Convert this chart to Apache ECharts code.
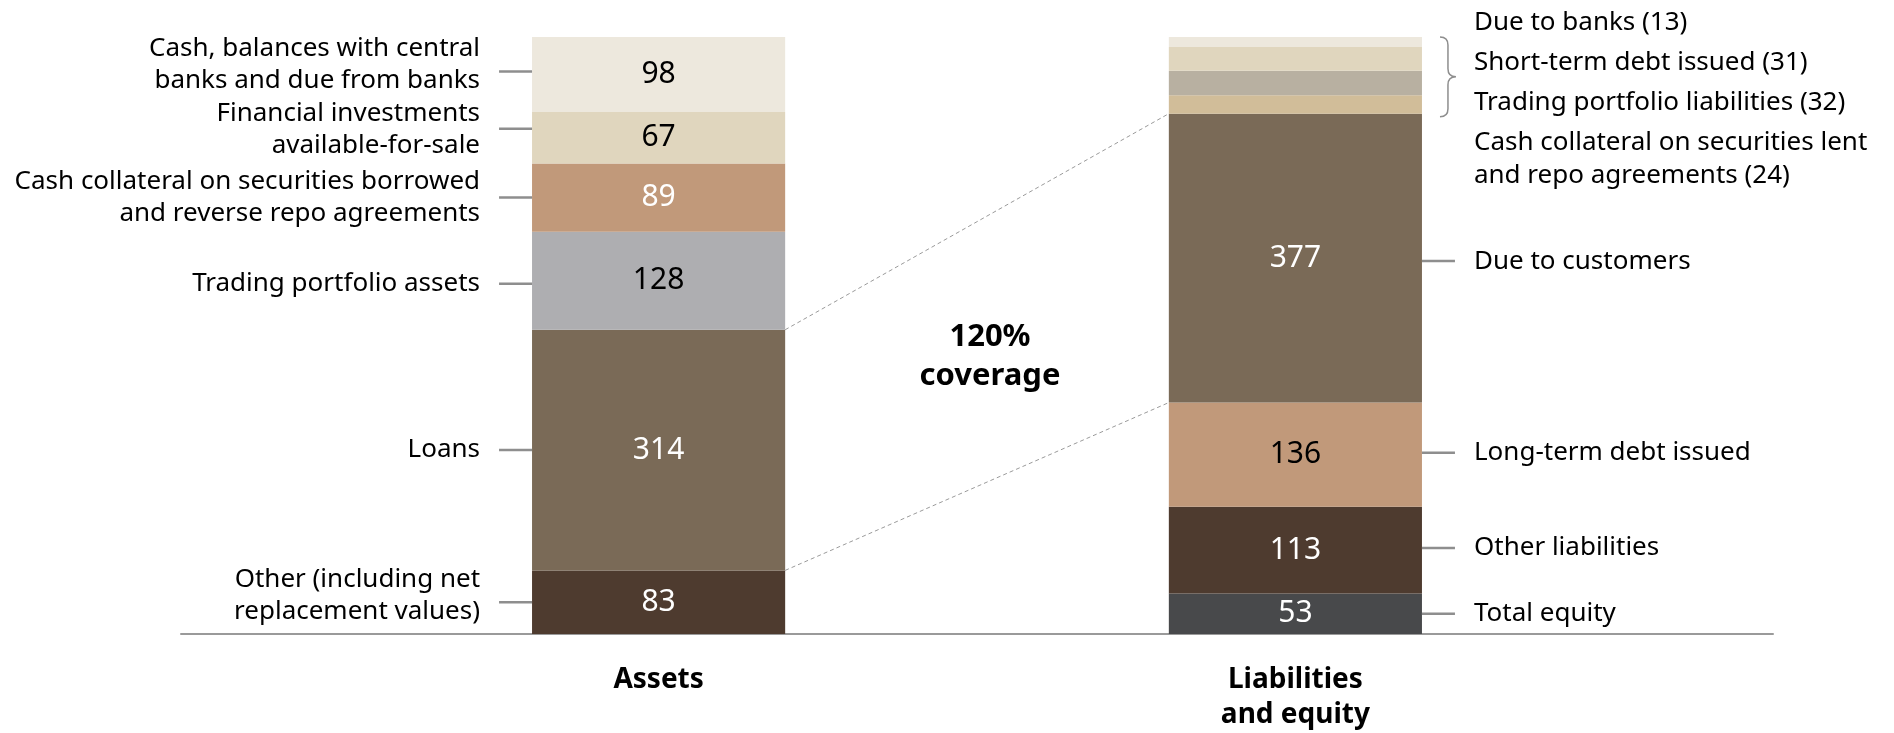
<!DOCTYPE html>
<html lang="en">
<head>
    <meta charset="UTF-8">
    <title>Balance sheet</title>
    <style>
        body {
            margin: 0px;
            padding: 0px;
            background: #ffffff;
        }

        #balance {
            width: 1894px;
            height: 733px;
        }
    </style>
</head>
<body>
<div id="balance"></div>
<script src="https://cdn.jsdelivr.net/npm/echarts@6/dist/echarts.min.js"></script>
<script>
    // five category slots, the two bars sit in slot 1 and 3
    var categories = ['', 'Assets', '', 'Liabilities\nand equity', ''];

    // stacked bottom to top
    var assetNames = [
        'Other (including net\nreplacement values)',
        'Loans',
        'Trading portfolio assets',
        'Cash collateral on securities borrowed\nand reverse repo agreements',
        'Financial investments\navailable-for-sale',
        'Cash, balances with central\nbanks and due from banks'
    ];
    var assetValues = [83, 314, 128, 89, 67, 98];

    var liabilityNames = [
        'Total equity',
        'Other liabilities',
        'Long-term debt issued',
        'Due to customers',
        'Cash collateral on securities lent\nand repo agreements (24)',
        'Trading portfolio liabilities (32)',
        'Short-term debt issued (31)',
        'Due to banks (13)'
    ];
    var liabilityValues = [53, 113, 136, 377, 24, 32, 31, 13];

    var coverageLines = ['120%', 'coverage'];

    var assetColors = ['#4e3b2f', '#7a6a57', '#aeaeb1', '#c1997a', '#e0d6be', '#ede8dd'];
    var assetTextColors = ['#ffffff', '#ffffff', '#000000', '#ffffff', '#000000', '#000000'];
    var liabilityColors = ['#48494b', '#4e3b2f', '#c1997a', '#7a6a57', '#d1bd99', '#b8b0a1', '#e0d6be', '#ede8dd'];
    var liabilityTextColors = ['#ffffff', '#ffffff', '#000000', '#ffffff', '#000000', '#000000', '#000000', '#000000'];

    // small pixel nudges of leader lines / label text, [leader, text]
    var assetNudge = [[0, -7], [0, 0], [3, 3], [0, 0], [-9, -8], [-3, -10]];
    var liabilityNudge = [[0, 0], [-2, -2], [-2, -2], [3, 3]];

    var bracedCount = 4;       // top liability items listed next to a brace
    var FONT = '"Noto Sans", "Open Sans", sans-serif';
    var BAR_SHARE = 0.795;
    var LINE_COLOR = '#8e8e8e';

    function stackSegments(values) {
        var out = [], acc = 0;
        values.forEach(function (v) {
            out.push([acc, acc + v]);
            acc += v;
        });
        return out;
    }

    var assetSeg = stackSegments(assetValues);
    var liabilitySeg = stackSegments(liabilityValues);
    var total = assetSeg[assetSeg.length - 1][1];

    var series = [];

    function addBars(names, values, colors, textColors, slot, noLabelFrom) {
        values.forEach(function (v, i) {
            series.push({
                name: names[i],
                type: 'bar',
                stack: 'sheet',
                barWidth: (BAR_SHARE * 100) + '%',
                data: categories.map(function (c, k) { return k === slot ? v : null; }),
                itemStyle: { color: colors[i] },
                label: {
                    show: i < noLabelFrom,
                    position: 'inside',
                    fontFamily: FONT,
                    fontSize: 30,
                    color: textColors[i]
                }
            });
        });
    }

    addBars(assetNames, assetValues, assetColors, assetTextColors, 1, assetValues.length);
    addBars(liabilityNames, liabilityValues, liabilityColors, liabilityTextColors, 3, liabilityValues.length - bracedCount);

    // side labels with leader lines
    var annotations = [];
    assetNames.forEach(function (n, i) {
        annotations.push({ slot: 1, lo: assetSeg[i][0], hi: assetSeg[i][1], side: 'left', text: n, nudge: assetNudge[i] });
    });
    for (var j = 0; j < liabilityNames.length - bracedCount; j++) {
        annotations.push({ slot: 3, lo: liabilitySeg[j][0], hi: liabilitySeg[j][1], side: 'right', text: liabilityNames[j], nudge: liabilityNudge[j] });
    }

    series.push({
        type: 'custom',
        clip: false,
        silent: true,
        z: 5,
        data: annotations.map(function (a) { return [a.slot, a.lo, a.hi]; }),
        encode: { x: 0, y: [1, 2] },
        renderItem: function (params, api) {
            var a = annotations[params.dataIndex];
            var pLo = api.coord([api.value(0), api.value(1)]);
            var pHi = api.coord([api.value(0), api.value(2)]);
            var half = api.size([1, 0])[0] * BAR_SHARE / 2;
            var cy = (pLo[1] + pHi[1]) / 2;
            var edge = a.side === 'left' ? pLo[0] - half : pLo[0] + half;
            var dir = a.side === 'left' ? -1 : 1;
            return {
                type: 'group',
                children: [{
                    type: 'line',
                    shape: { x1: edge, y1: cy + a.nudge[0], x2: edge + dir * 33, y2: cy + a.nudge[0] },
                    style: { stroke: LINE_COLOR, lineWidth: 2.5 }
                }, {
                    type: 'text',
                    x: edge + dir * 52,
                    y: cy + a.nudge[1],
                    style: {
                        text: a.text,
                        fontFamily: FONT,
                        fontSize: 26,
                        lineHeight: 32,
                        fill: '#000000',
                        align: a.side === 'left' ? 'right' : 'left',
                        verticalAlign: 'middle'
                    }
                }]
            };
        }
    });

    // brace with the small liability items
    var bracedNames = liabilityNames.slice(liabilityNames.length - bracedCount).reverse();
    var braceLo = liabilitySeg[liabilityNames.length - bracedCount][0];
    series.push({
        type: 'custom',
        clip: false,
        silent: true,
        z: 5,
        data: [[3, braceLo, total]],
        encode: { x: 0, y: [1, 2] },
        renderItem: function (params, api) {
            var pLo = api.coord([api.value(0), api.value(1)]);
            var pHi = api.coord([api.value(0), api.value(2)]);
            var half = api.size([1, 0])[0] * BAR_SHARE / 2;
            var x0 = pLo[0] + half + 18;
            var top = pHi[1], bot = pLo[1] + 3, mid = (top + bot) / 2;
            var path = 'M' + x0 + ' ' + top +
                ' Q' + (x0 + 8) + ' ' + top + ' ' + (x0 + 8) + ' ' + (top + 8) +
                ' L' + (x0 + 8) + ' ' + (mid - 8) +
                ' Q' + (x0 + 8) + ' ' + mid + ' ' + (x0 + 16) + ' ' + mid +
                ' Q' + (x0 + 8) + ' ' + mid + ' ' + (x0 + 8) + ' ' + (mid + 8) +
                ' L' + (x0 + 8) + ' ' + (bot - 8) +
                ' Q' + (x0 + 8) + ' ' + bot + ' ' + x0 + ' ' + bot;
            var children = [{
                type: 'path',
                shape: { pathData: path },
                style: { stroke: LINE_COLOR, lineWidth: 1.5, fill: null }
            }];
            bracedNames.forEach(function (n, k) {
                children.push({
                    type: 'text',
                    x: pLo[0] + half + 52,
                    y: top - 31 + k * 40,
                    style: {
                        text: n,
                        fontFamily: FONT,
                        fontSize: 26,
                        lineHeight: 33,
                        fill: '#000000',
                        align: 'left',
                        verticalAlign: 'top'
                    }
                });
            });
            return { type: 'group', children: children };
        }
    });

    // dashed lines linking loans to due to customers
    series.push({
        type: 'custom',
        clip: false,
        silent: true,
        z: 4,
        data: [
            [1, assetSeg[1][1], 3, liabilitySeg[3][1]],
            [1, assetSeg[1][0], 3, liabilitySeg[3][0]]
        ],
        encode: { x: [0, 2], y: [1, 3] },
        renderItem: function (params, api) {
            var half = api.size([1, 0])[0] * BAR_SHARE / 2;
            var p1 = api.coord([api.value(0), api.value(1)]);
            var p2 = api.coord([api.value(2), api.value(3)]);
            return {
                type: 'line',
                shape: { x1: p1[0] + half, y1: p1[1], x2: p2[0] - half, y2: p2[1] },
                style: { stroke: '#9a9a9a', lineWidth: 1, lineDash: [4, 3] }
            };
        }
    });

    var chart = echarts.init(document.getElementById('balance'));
    chart.setOption({
        animation: false,
        grid: { left: 181, right: 121, top: 37, bottom: 97 },
        xAxis: {
            type: 'category',
            data: categories,
            axisLine: { lineStyle: { color: '#9a9a9a', width: 2 } },
            axisTick: { show: false },
            axisLabel: {
                interval: 0,
                margin: 29,
                fontFamily: FONT,
                fontWeight: 'bold',
                fontSize: 28,
                lineHeight: 35,
                color: '#000000'
            }
        },
        yAxis: { type: 'value', min: 0, max: total, show: false },
        graphic: [{
            type: 'text',
            x: 990,
            y: 318,
            style: {
                text: coverageLines.join('\n'),
                fontFamily: FONT,
                fontWeight: 'bold',
                fontSize: 31,
                lineHeight: 39,
                fill: '#000000',
                align: 'center',
                verticalAlign: 'top'
            }
        }],
        series: series
    });
</script>
</body>
</html>
